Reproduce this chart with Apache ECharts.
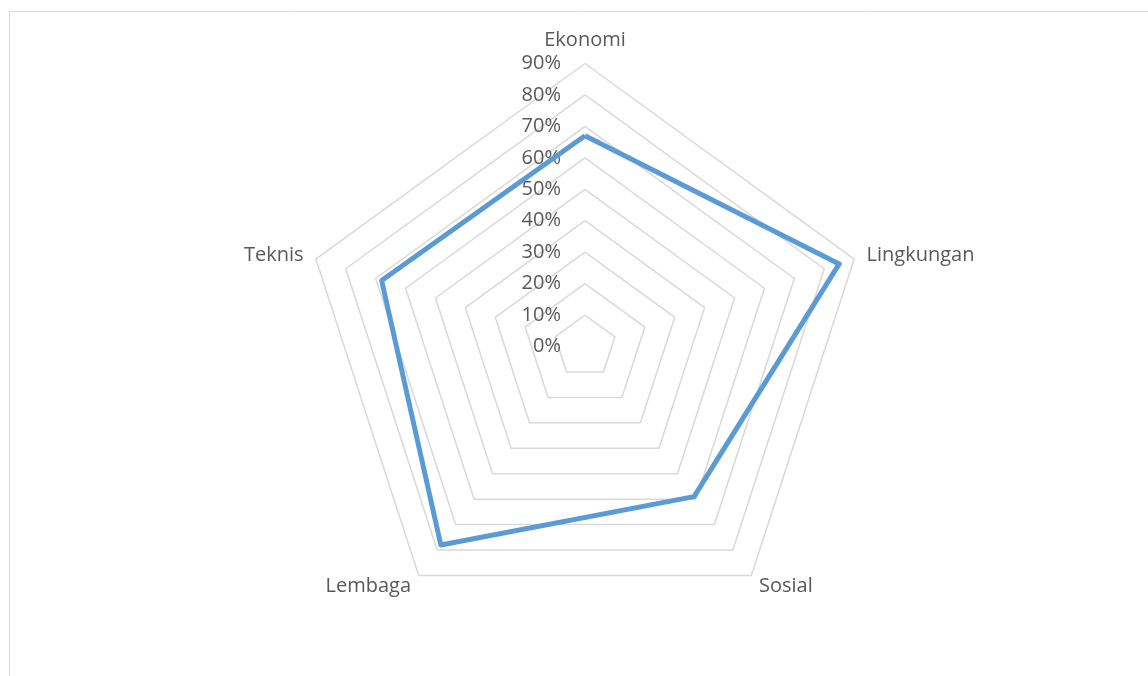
<!DOCTYPE html>
<html>
<head>
<meta charset="utf-8">
<script src="https://cdn.jsdelivr.net/npm/echarts@6/dist/echarts.min.js"></script>
<style>
  html, body { margin: 0; padding: 0; background: #fff; }
  #chart { width: 1148px; height: 676px; }
</style>
</head>
<body>
<div id="chart"></div>
<script>
// kategori dan nilai (dalam persen), urutan searah jarum jam dari atas
const indicators = ['Ekonomi', 'Lingkungan', 'Sosial', 'Lembaga', 'Teknis'];
const values = [67, 85, 59, 78, 68];
const axisMax = 90;

// ECharts menggambar radar berlawanan arah jarum jam, jadi urutannya dibalik
const order = [0, 4, 3, 2, 1];

const chart = echarts.init(document.getElementById('chart'));

const option = {
  backgroundColor: '#fff',
  animation: false,
  graphic: [
    {
      type: 'rect',
      shape: { x: 9.5, y: 11.5, width: 1200, height: 700 },
      style: { fill: 'none', stroke: '#d9d9d9', lineWidth: 1 },
      silent: true
    }
  ],
  radar: {
    center: [585, 346.5],
    radius: 283,
    startAngle: 90,
    shape: 'polygon',
    splitNumber: 9,
    nameGap: 13,
    axisName: {
      color: '#595959',
      fontSize: 20,
      fontFamily: 'Open Sans'
    },
    indicator: order.map((k, i) => ({
      name: indicators[k],
      min: 0,
      max: axisMax,
      // label persen hanya pada sumbu pertama
      axisLabel: i === 0 ? {
        show: true,
        color: '#595959',
        fontSize: 20,
        fontFamily: 'Open Sans',
        margin: 24,
        formatter: (v) => v + '%'
      } : { show: false }
    })),
    axisLine: { show: false },
    axisTick: { show: false },
    splitLine: {
      lineStyle: { color: '#d9d9d9', width: 1.5 }
    },
    splitArea: { show: false }
  },
  series: [
    {
      type: 'radar',
      symbol: 'none',
      lineStyle: { color: '#5b9bd5', width: 5 },
      itemStyle: { color: '#5b9bd5' },
      data: [
        { value: order.map((k) => values[k]), name: 'Series1' }
      ]
    }
  ]
};

chart.setOption(option);
</script>
</body>
</html>
